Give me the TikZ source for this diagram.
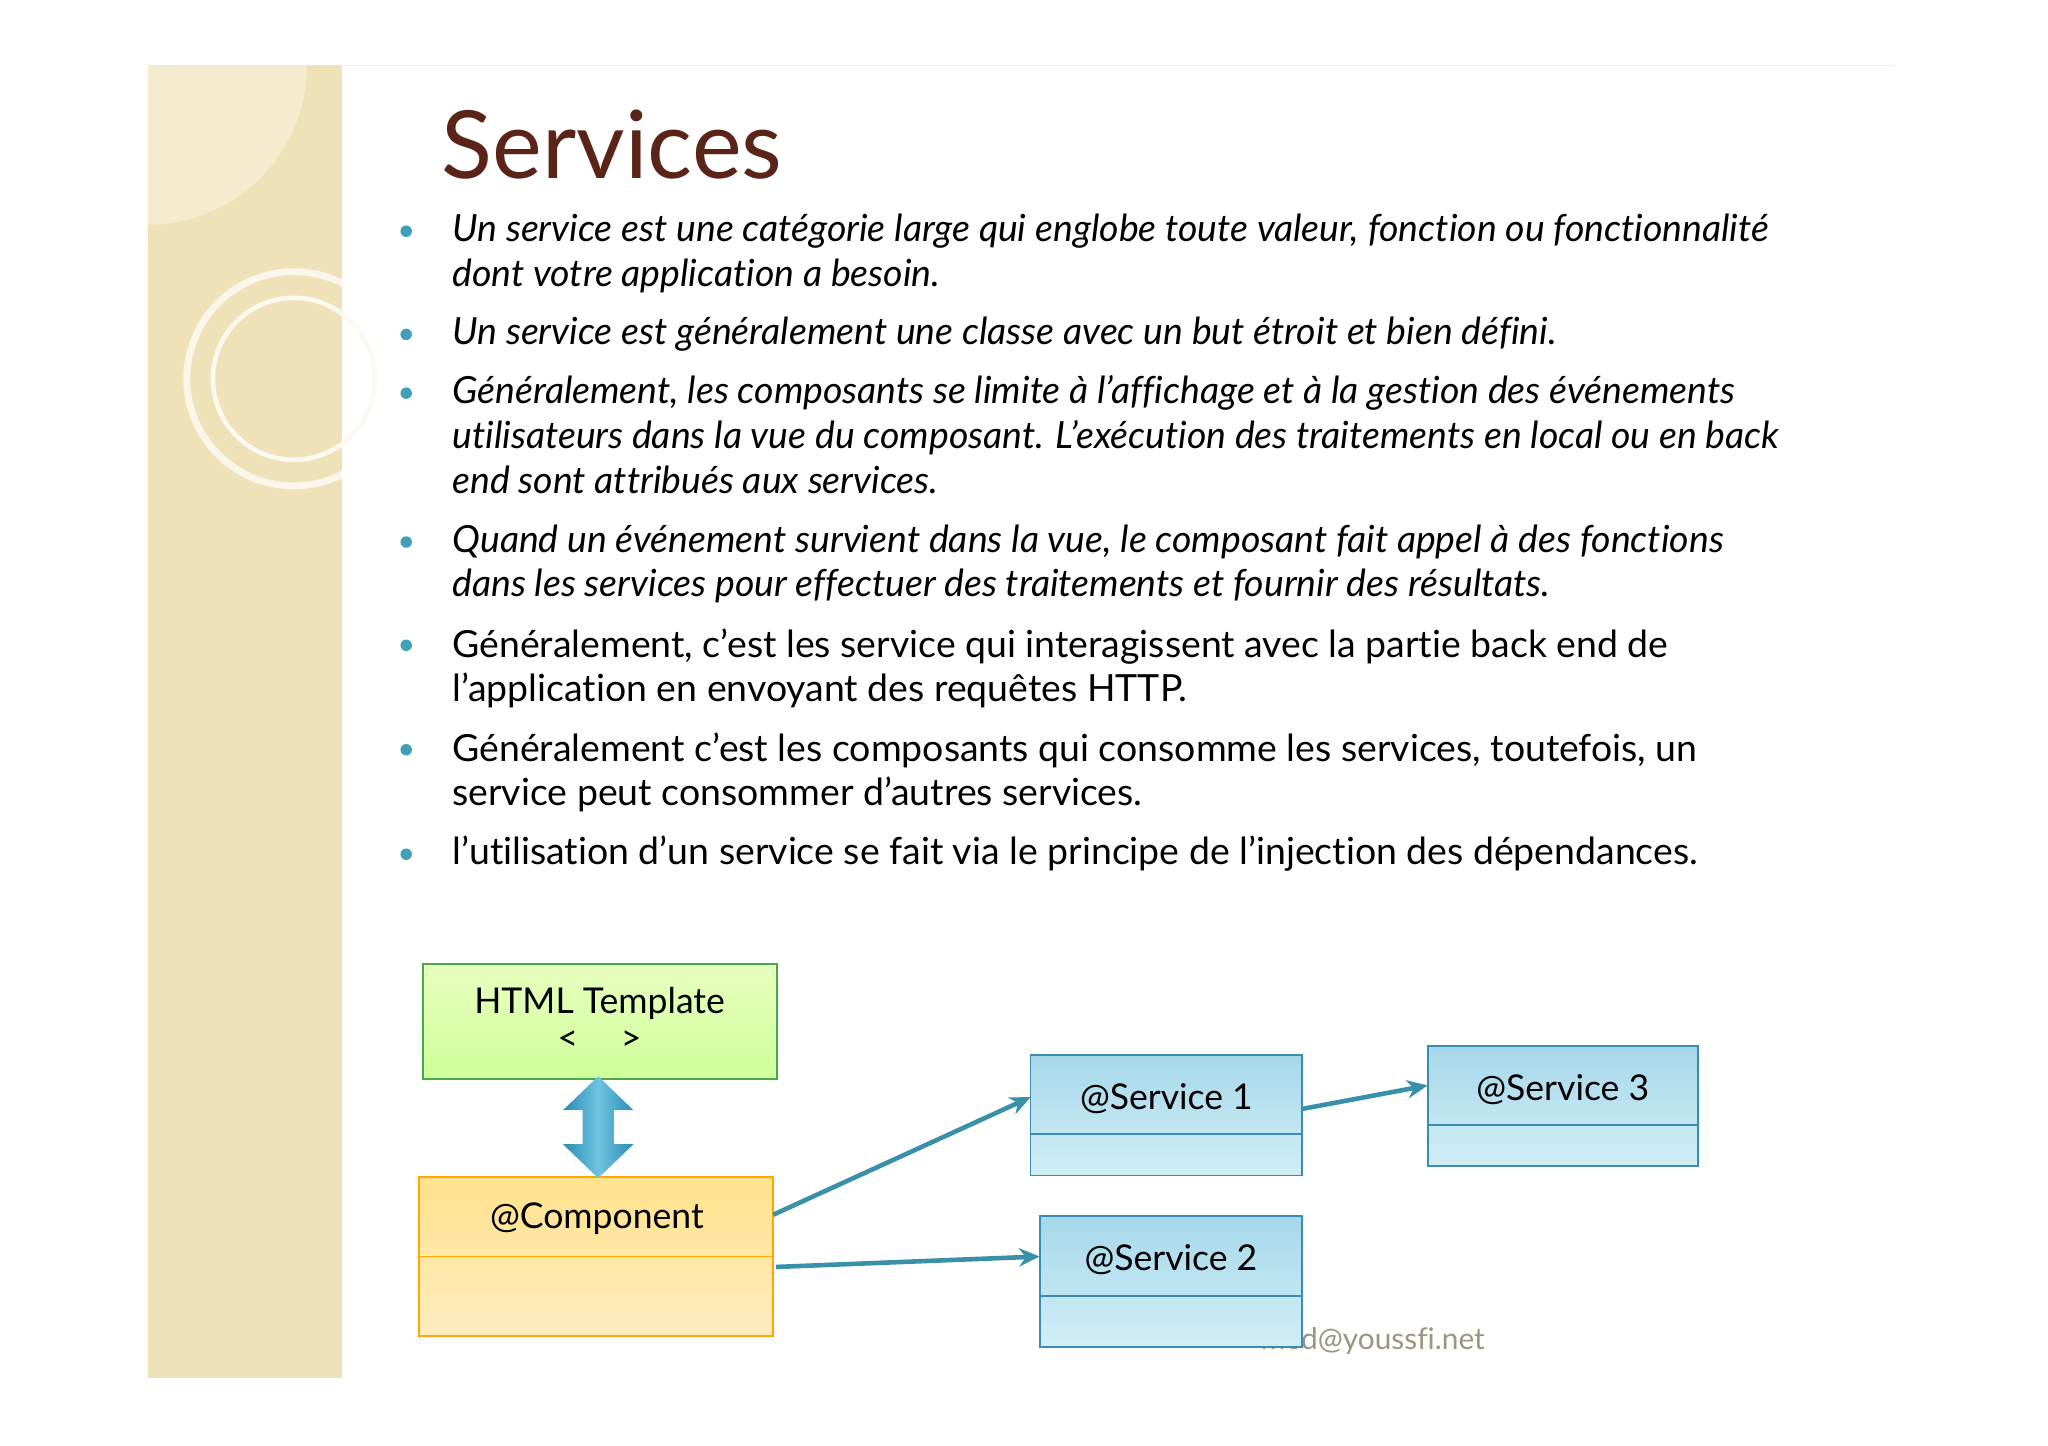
\documentclass[tikz,border=0pt]{standalone}
\usepackage{fontspec}
\setmainfont{Lato}[Ligatures={NoCommon}]
\usetikzlibrary{arrows.meta}
\definecolor{strip}{HTML}{F0E2B8}
\definecolor{titlec}{HTML}{5A2418}
\definecolor{bul}{HTML}{3FA0B8}
\definecolor{conn}{HTML}{3A90A8}
\definecolor{svtop}{HTML}{A6D8EA}
\definecolor{svbot}{HTML}{D2EEF7}
\definecolor{svline}{HTML}{3A8CB0}
\definecolor{dadark}{HTML}{2A8CB4}
\definecolor{dalight}{HTML}{6FC4E0}
\tikzset{
 tx/.style={anchor=base west,inner sep=0pt,font=\fontsize{16.3}{20}\selectfont},
 bl/.style={circle,fill=bul,inner sep=0pt,minimum size=5pt},
 lbl/.style={font=\fontsize{15.5}{19}\selectfont,inner sep=0pt},
 cn/.style={draw=conn,line width=2pt,-{Stealth[length=9pt,width=8pt]}},
 sv/.style={draw=svline,line width=0.8pt}
}
\begin{document}
\begin{tikzpicture}[x=0.02cm,y=-0.02cm]
\useasboundingbox (0,0) rectangle (1568,1107);
\fill[white] (0,0) rectangle (1568,1107);
% left strip
\fill[strip] (113,50) rectangle (262,1055);
\fill[white,opacity=0.35] (113,50) -- (235,50) arc (0:90:122) -- cycle;
\draw[white,line width=3pt,opacity=0.7] (225,290) circle (82);
\draw[white!80!strip,line width=2pt] (225,290) circle (62);
\draw[gray!12] (262,50) -- (1450,50);
% title
\node[anchor=base west,inner sep=0pt,text=titlec,font=\fontsize{41}{48}\selectfont] (title) at (338,137) {Services};
% bullets
\foreach \y in {177,256,301,415,494,574,654} \node[bl] at (311,\y) {};
\node[tx] (l1) at (346,185) {\itshape Un service est une catégorie large qui englobe toute valeur, fonction ou fonctionnalité};
\node[tx] at (346,219) {\itshape dont votre application a besoin.};
\node[tx] at (346,264) {\itshape Un service est généralement une classe avec un but étroit et bien défini.};
\node[tx] at (346,309) {\itshape Généralement, les composants se limite à l’affichage et à la gestion des événements};
\node[tx] at (346,343) {\itshape utilisateurs dans la vue du composant. L’exécution des traitements en local ou en back};
\node[tx] at (346,378) {\itshape end sont attribués aux services.};
\node[tx] at (346,423) {\itshape Quand un événement survient dans la vue, le composant fait appel à des fonctions};
\node[tx] at (346,457) {\itshape dans les services pour effectuer des traitements et fournir des résultats.};
\node[tx] at (346,503) {Généralement, c’est les service qui interagissent avec la partie back end de};
\node[tx] at (346,537) {l’application en envoyant des requêtes HTTP.};
\node[tx] at (346,583) {Généralement c’est les composants qui consomme les services, toutefois, un};
\node[tx] at (346,617) {service peut consommer d’autres services.};
\node[tx] at (346,662) {l’utilisation d’un service se fait via le principe de l’injection des dépendances.};
% footer
\node[anchor=base west,inner sep=0pt,text=black!30!strip!70!gray,font=\fontsize{13}{15}\selectfont] (foot) at (965,1033) {med@youssfi.net};
% HTML template
\shade[top color=green!15!lime!25,bottom color=green!30!lime!40] (324,738) rectangle (595,826);
\draw[draw=green!50!black!70,line width=0.8pt] (324,738) rectangle (595,826);
\node[lbl] (html) at (459,768) {HTML Template};
\node[lbl] at (459,797) {<\hspace{1.2em}>};
% component
\shade[top color=yellow!50!orange!45,bottom color=yellow!40!orange!25] (321,901) rectangle (592,1023);
\draw[draw=orange!70!yellow,line width=0.8pt] (321,901) rectangle (592,1023) (321,962) -- (592,962);
\node[lbl] (comp) at (457,933) {@Component};
% services
\foreach \a/\b/\c/\d/\m/\t/\n in {789/808/997/900/868/{@Service 1}/s1, 1093/801/1300/893/861/{@Service 3}/s3, 796/931/997/1031/992/{@Service 2}/s2}{
 \shade[top color=svtop,bottom color=svbot] (\a,\b) rectangle (\c,\d);
 \draw[sv] (\a,\b) rectangle (\c,\d) (\a,\m) -- (\c,\m);
 \node[lbl] (\n) at ({(\a+\c)/2},{(\b+\m)/2+3}) {\t};
}
% double arrow
\shade[left color=dadark,right color=dadark,middle color=dalight]
 (458,824) -- (485,850) -- (470,850) -- (470,876) -- (485,876) -- (458,902) -- (431,876) -- (446,876) -- (446,850) -- (431,850) -- cycle;
% connectors
\coordinate (c1) at (592,930); \coordinate (s1w) at (789,840);
\coordinate (c2) at (594,970); \coordinate (s2w) at (796,962);
\coordinate (s1e) at (997,849); \coordinate (s3w) at (1093,831);
\draw[cn] (c1) -- (s1w);
\draw[cn] (c2) -- (s2w);
\draw[cn] (s1e) -- (s3w);
\end{tikzpicture}
\end{document}
